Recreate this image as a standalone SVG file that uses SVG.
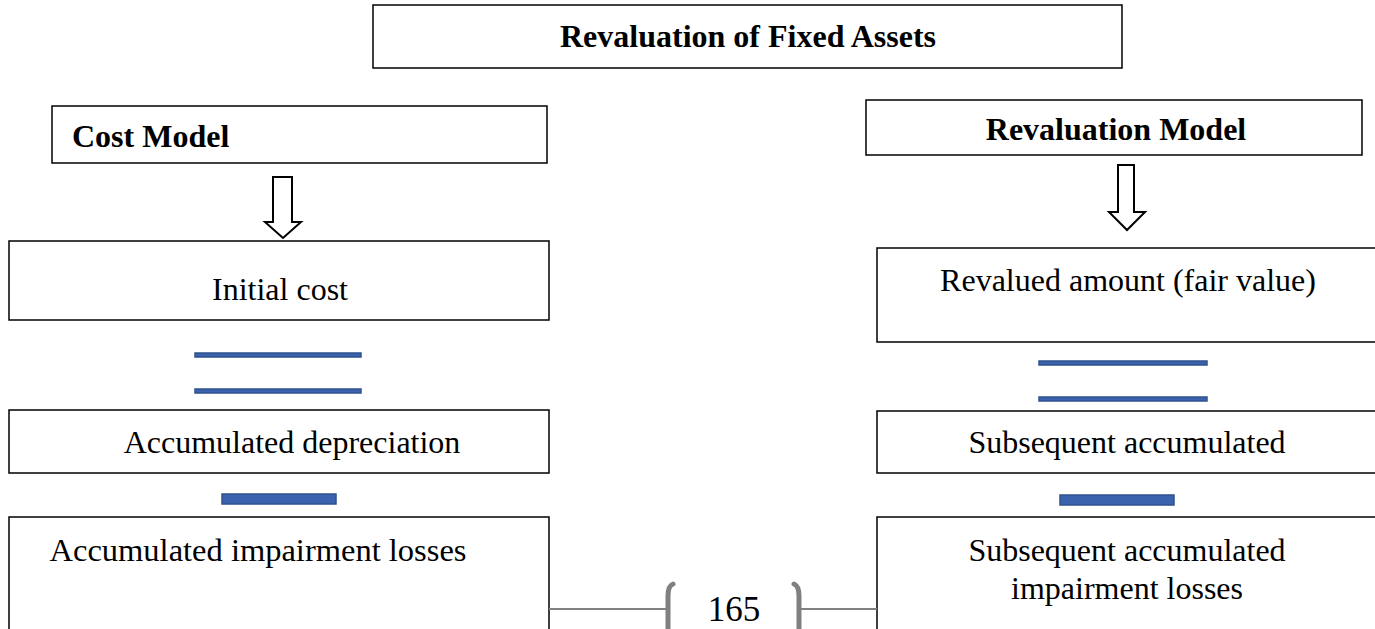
<svg xmlns="http://www.w3.org/2000/svg" width="1375" height="629" viewBox="0 0 1375 629">
<style>
.box{fill:#fff;stroke:#000;stroke-width:1.5}
.t{font-family:"Liberation Serif","Times New Roman",serif;font-size:32px;fill:#000}
.b{font-weight:bold}
.bar{fill:#3a62ad;stroke:#2f528f;stroke-width:1.5}
.arr{fill:#fff;stroke:#000;stroke-width:2}
.g{stroke:#808080;fill:none}
</style>
<rect width="1375" height="629" fill="#fff"/>
<g id="title"><rect class="box" x="373" y="5" width="749" height="63"/><text class="t b" x="748" y="47" text-anchor="middle">Revaluation of Fixed Assets</text></g>
<g id="cost-model"><rect class="box" x="52" y="106" width="495" height="57"/><text class="t b" x="72" y="147">Cost Model</text></g>
<g id="revaluation-model"><rect class="box" x="866" y="100" width="496" height="55"/><text class="t b" x="1116" y="140" text-anchor="middle">Revaluation Model</text></g>
<g id="initial-cost"><rect class="box" x="9" y="241" width="540" height="79"/><text class="t" x="280" y="300" text-anchor="middle">Initial cost</text></g>
<g id="revalued-amount"><rect class="box" x="877" y="248" width="500" height="94"/><text class="t" x="1128" y="291" text-anchor="middle">Revalued amount (fair value)</text></g>
<g id="acc-depreciation"><rect class="box" x="9" y="410" width="540" height="63"/><text class="t" x="292" y="453" text-anchor="middle">Accumulated depreciation</text></g>
<g id="subsequent-acc"><rect class="box" x="877" y="411" width="500" height="62"/><text class="t" x="1127" y="453" text-anchor="middle">Subsequent accumulated</text></g>
<g id="acc-impairment"><rect class="box" x="9" y="517" width="540" height="120"/><text class="t" x="258" y="561" text-anchor="middle" style="font-size:32.5px">Accumulated impairment losses</text></g>
<g id="subsequent-impairment"><rect class="box" x="877" y="517" width="500" height="120"/><text class="t" x="1127" y="561" text-anchor="middle">Subsequent accumulated</text><text class="t" x="1127" y="599" text-anchor="middle">impairment losses</text></g>
<g id="connectors">
<path class="arr" d="M273 177 H292 V222 H301 L283 238 L265 222 H273 Z"/>
<path class="arr" d="M1118 165 H1134 V212 H1145 L1127 230 L1109 212 H1118 Z"/>
<rect class="bar" x="195" y="353" width="166" height="4"/>
<rect class="bar" x="195" y="389" width="166" height="4"/>
<rect class="bar" x="222" y="494" width="114" height="10"/>
<rect class="bar" x="1039" y="361" width="168" height="4"/>
<rect class="bar" x="1039" y="397" width="168" height="4"/>
<rect class="bar" x="1060" y="495" width="114" height="10"/>
</g>
<g id="page-number">
<path class="g" stroke-width="2" d="M549 609 H667 M800 609 H877"/>
<path class="g" stroke-width="5" stroke-linecap="round" d="M673 584 Q668 586 668 596 V629 M794 584 Q799 586 799 596 V629"/>
<text class="t" x="734" y="621" text-anchor="middle" style="font-size:35px">165</text>
</g>
</svg>
